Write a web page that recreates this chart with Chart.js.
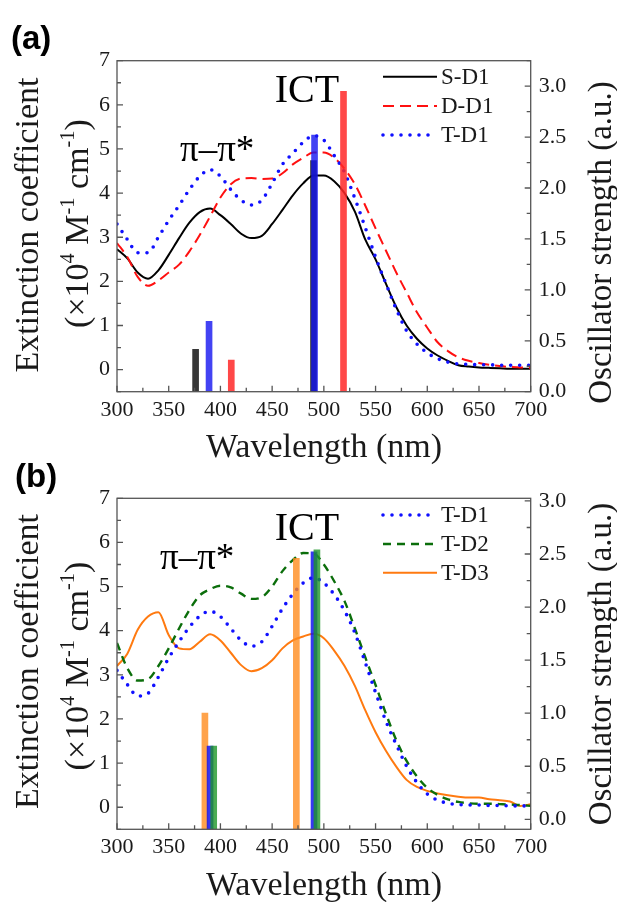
<!DOCTYPE html>
<html>
<head>
<meta charset="utf-8">
<script src="https://cdn.jsdelivr.net/npm/chart.js@4.4.0/dist/chart.umd.min.js"></script>
<style>
  body { margin: 0; background: #fff; }
  #wrap { position: relative; width: 617px; height: 902px; }
  canvas { position: absolute; left: 0; }
</style>
</head>
<body>
<div id="wrap">
  <canvas id="chartA" width="617" height="470" style="top:0"></canvas>
  <canvas id="chartB" width="617" height="447" style="top:455px"></canvas>
</div>
<script>
// wavelength grid (nm)
const wl = [300,310,320,330,340,350,360,370,380,390,400,410,420,430,440,450,460,470,480,490,
            500,510,520,530,540,550,560,570,580,590,600,610,620,630,640,650,660,670,680,690,700];

// panel (a) extinction coefficient (x10^4 M-1 cm-1)
const sD1 = [2.73,2.52,2.2,2.06,2.25,2.6,2.98,3.33,3.57,3.65,3.5,3.3,3.08,2.98,3.03,3.3,3.62,3.95,4.22,4.4,
             4.4,4.27,4.0,3.58,2.95,2.5,1.95,1.42,1.0,0.7,0.48,0.32,0.2,0.1,0.07,0.05,0.04,0.03,0.02,0.02,0.02];
const dD1 = [2.87,2.55,2.1,1.9,2.02,2.2,2.38,2.68,3.05,3.47,3.9,4.2,4.33,4.34,4.32,4.33,4.45,4.65,4.8,4.92,
             4.92,4.8,4.55,4.2,3.72,3.2,2.7,2.2,1.75,1.3,0.95,0.62,0.42,0.28,0.2,0.15,0.11,0.08,0.06,0.05,0.04];
const tD1a = [3.3,2.95,2.65,2.65,3.0,3.38,3.72,4.08,4.38,4.53,4.38,4.08,3.84,3.73,3.84,4.22,4.65,4.9,5.15,5.3,
              5.2,4.85,4.47,3.88,3.22,2.55,1.95,1.37,0.88,0.58,0.38,0.25,0.17,0.13,0.12,0.11,0.11,0.1,0.1,0.1,0.1];

// panel (b)
const tD1b = [3.1,2.78,2.52,2.58,2.95,3.38,3.75,4.08,4.33,4.44,4.32,4.05,3.78,3.65,3.75,4.1,4.5,4.83,5.08,5.2,
              5.08,4.82,4.45,3.95,3.28,2.6,1.95,1.42,0.93,0.56,0.3,0.16,0.09,0.06,0.05,0.05,0.04,0.04,0.03,0.03,0.03];
const tD2 = [3.72,3.15,2.87,2.9,3.2,3.6,4.05,4.47,4.8,4.94,5.02,4.98,4.84,4.72,4.76,5.0,5.35,5.6,5.76,5.75,
             5.5,5.12,4.67,4.05,3.4,2.77,2.12,1.52,1.05,0.7,0.44,0.28,0.18,0.12,0.09,0.08,0.08,0.07,0.06,0.05,0.03];
const tD3 = [3.2,3.48,4.02,4.32,4.42,3.9,3.6,3.58,3.75,3.92,3.78,3.5,3.22,3.08,3.15,3.33,3.6,3.78,3.87,3.93,
             3.83,3.55,3.2,2.75,2.2,1.7,1.28,0.92,0.62,0.46,0.37,0.31,0.27,0.24,0.22,0.22,0.18,0.16,0.13,0.03,0.07];

// oscillator strengths (bars): position nm / strength
const sD1BarNm = [376, 490];    const sD1BarF = [0.415, 2.27];
const tD1aBarNm = [389, 491];   const tD1aBarF = [0.69, 2.52];
const dD1BarNm = [410.5, 519];  const dD1BarF = [0.31, 2.95];
const tD3BarNm = [385, 473.4];  const tD3BarF = [1.0, 2.46];
const tD1bBarNm = [390, 490.5]; const tD1bBarF = [0.69, 2.52];
const tD2BarNm = [393.5, 493.3]; const tD2BarF = [0.69, 2.54];

const SERIF = '"Liberation Serif", serif';
const INK = '#1a1a1a';

const pts = (xs, ys) => xs.map((x, i) => ({ x: x, y: ys[i] }));

function lineSet(label, ys, color, dash, width, order) {
  return {
    type: 'line', label: label, data: pts(wl, ys), yAxisID: 'y',
    borderColor: color, borderWidth: width, borderDash: dash,
    borderCapStyle: dash.length && dash[0] === 0 ? 'round' : 'butt',
    pointRadius: 0, cubicInterpolationMode: 'monotone', fill: false, order: order
  };
}

function barSet(xs, ys, color, base, order) {
  return {
    type: 'bar', data: pts(xs, ys), yAxisID: 'y2', backgroundColor: color,
    borderWidth: 0, barThickness: 6, grouped: false, base: base, order: order
  };
}

function drawRich(ctx, parts, x, y, size, angle) {
  ctx.save();
  ctx.translate(x, y);
  ctx.rotate(angle);
  ctx.textBaseline = 'alphabetic';
  ctx.textAlign = 'left';
  ctx.fillStyle = INK;
  let total = 0;
  const ws = parts.map(p => {
    ctx.font = (p[1] ? size * 0.6 : size) + 'px ' + SERIF;
    const w = ctx.measureText(p[0]).width;
    total += w;
    return w;
  });
  let cx = -total / 2;
  parts.forEach((p, i) => {
    ctx.font = (p[1] ? size * 0.6 : size) + 'px ' + SERIF;
    ctx.fillText(p[0], cx, p[1] ? -size * 0.42 : 0);
    cx += ws[i];
  });
  ctx.restore();
}

// frame, inward ticks, legend, labels
const decor = {
  id: 'decor',
  afterDatasetsDraw(chart, args, o) {
    const { ctx, chartArea: a, scales } = chart;
    ctx.save();
    ctx.strokeStyle = '#555';
    ctx.lineWidth = 1.3;
    ctx.strokeRect(a.left, a.top, a.right - a.left, a.bottom - a.top);
    ctx.beginPath();
    for (let v = 300; v <= 700; v += 25) {
      const px = scales.x.getPixelForValue(v);
      ctx.moveTo(px, a.bottom); ctx.lineTo(px, a.bottom - (v % 50 === 0 ? 6 : 4));
    }
    for (let v = -0.5; v <= 7.001; v += 0.5) {
      const py = scales.y.getPixelForValue(v);
      ctx.moveTo(a.left, py); ctx.lineTo(a.left + (Number.isInteger(v) ? 6 : 4), py);
    }
    for (let v = 0; v <= o.rMax + 0.001; v += 0.25) {
      const py = scales.y2.getPixelForValue(v);
      ctx.moveTo(a.right, py); ctx.lineTo(a.right - (Math.abs(v * 2 - Math.round(v * 2)) < 1e-6 ? 6 : 4), py);
    }
    ctx.stroke();

    // legend
    const lines = chart.data.datasets.filter(d => d.type === 'line');
    o.legendOrder.forEach((lab, i) => {
      const d = lines.find(l => l.label === lab);
      const y = o.legendY[i];
      ctx.beginPath();
      ctx.strokeStyle = d.borderColor;
      ctx.lineWidth = d.borderWidth;
      ctx.setLineDash(d.borderDash);
      ctx.lineCap = d.borderCapStyle;
      ctx.moveTo(383, y); ctx.lineTo(437, y);
      ctx.stroke();
      ctx.setLineDash([]);
      ctx.lineCap = 'butt';
      ctx.fillStyle = INK;
      ctx.font = '23px ' + SERIF;
      ctx.textBaseline = 'middle';
      ctx.textAlign = 'left';
      ctx.fillText(lab, 441, y + 1);
    });

    // annotations
    ctx.textBaseline = 'alphabetic';
    ctx.fillStyle = '#000';
    ctx.font = 'bold 33px "Liberation Sans", sans-serif';
    ctx.textAlign = 'left';
    ctx.fillText(o.tag, o.tagPos[0], o.tagPos[1]);
    ctx.font = '40px ' + SERIF;
    ctx.textAlign = 'center';
    ctx.fillText('ICT', o.ictPos[0], o.ictPos[1]);
    ctx.font = '37px ' + SERIF;
    ctx.textAlign = 'left';
    ctx.fillText('\u03c0\u2013\u03c0*', o.piPos[0], o.piPos[1]);

    // axis titles
    drawRich(ctx, [['Wavelength (nm)']], 324, o.xTitleY, 34, 0);
    drawRich(ctx, [['Extinction coefficient']], 38, o.yTitleC[0], 34, -Math.PI / 2);
    drawRich(ctx, [['(\u00d710'], ['4', true], [' M'], ['-1', true], [' cm'], ['-1', true], [')']],
             88, o.yTitleC[1], 34, -Math.PI / 2);
    drawRich(ctx, [['Oscillator strength (a.u.)']], 611, o.rTitleC, 33, -Math.PI / 2);
    ctx.restore();
  }
};

function makeChart(id, datasets, o) {
  const tickFont = { family: 'Liberation Serif', size: 22 };
  return new Chart(document.getElementById(id), {
    type: 'line',
    data: { datasets: datasets },
    options: {
      responsive: false,
      animation: false,
      layout: { padding: { top: o.top, left: 0, right: 0, bottom: 0 } },
      plugins: { legend: { display: false }, tooltip: { enabled: false }, decor: o },
      scales: {
        x: {
          type: 'linear', min: 300, max: 700, offset: false,
          grid: { display: false, drawTicks: false }, border: { display: false },
          ticks: {
            stepSize: 25, autoSkip: false, maxRotation: 0, padding: 5, color: INK, font: tickFont,
            callback: v => (v % 50 === 0 ? String(v) : '')
          },
          afterFit: s => { s.height = o.xHeight; }
        },
        y: {
          position: 'left', min: -0.5, max: 7,
          grid: { display: false, drawTicks: false }, border: { display: false },
          ticks: {
            stepSize: 0.5, autoSkip: false, includeBounds: false, padding: 7, color: INK, font: tickFont,
            callback: v => (Number.isInteger(v) && v >= 0 ? String(v) : '')
          },
          afterFit: s => { s.width = 117; }
        },
        y2: {
          position: 'right', min: o.rMin, max: o.rMax,
          grid: { display: false, drawTicks: false }, border: { display: false },
          ticks: {
            stepSize: 0.25, autoSkip: false, includeBounds: false, padding: 8, color: INK, font: tickFont,
            callback: v => (v >= -1e-6 && Math.abs(v * 2 - Math.round(v * 2)) < 1e-6 ? v.toFixed(1) : '')
          },
          afterFit: s => { s.width = 86.3; }
        }
      }
    },
    plugins: [decor]
  });
}

makeChart('chartA', [
  barSet(dD1BarNm, dD1BarF, 'rgba(255,40,40,0.85)', 0, 1),
  barSet(tD1aBarNm, tD1aBarF, 'rgba(20,20,240,0.8)', 0, 2),
  barSet(sD1BarNm, sD1BarF, 'rgba(20,20,20,0.85)', 0, 3),
  lineSet('T-D1', tD1a, '#1010ff', [0, 9], 3.6, 4),
  lineSet('D-D1', dD1, '#ff1010', [11, 6], 2, 5),
  lineSet('S-D1', sD1, '#000000', [], 2, 6)
], {
  top: 60.7, xHeight: 78.3, rMin: 0, rMax: 3.25,
  legendOrder: ['S-D1', 'D-D1', 'T-D1'], legendY: [76.7, 106, 135],
  tag: '(a)', tagPos: [11, 49], ictPos: [307, 102], piPos: [180, 161],
  xTitleY: 457, yTitleC: [225, 223.5], rTitleC: 242.5
});

makeChart('chartB', [
  barSet(tD2BarNm, tD2BarF, 'rgba(30,150,40,0.8)', -0.094, 1),
  barSet(tD1bBarNm, tD1bBarF, 'rgba(20,20,240,0.85)', -0.094, 2),
  barSet(tD3BarNm, tD3BarF, 'rgba(255,140,30,0.8)', -0.094, 3),
  lineSet('T-D1', tD1b, '#1010ff', [0, 9], 3.6, 4),
  lineSet('T-D2', tD2, '#0b6e0b', [8, 6], 2.4, 5),
  lineSet('T-D3', tD3, '#ff7a10', [], 2, 6)
], {
  top: 43.3, xHeight: 72.7, rMin: -0.094, rMax: 3.025,
  legendOrder: ['T-D1', 'T-D2', 'T-D3'], legendY: [60, 89, 117.7],
  tag: '(b)', tagPos: [15, 32], ictPos: [307, 85], piPos: [160, 114],
  xTitleY: 440, yTitleC: [206.5, 211], rTitleC: 209
});
</script>
</body>
</html>
